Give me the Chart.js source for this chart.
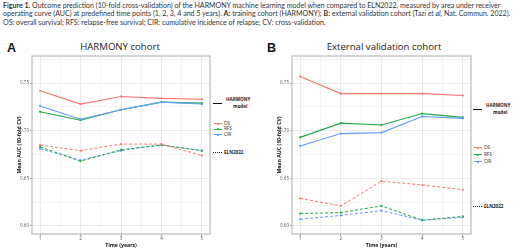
<!DOCTYPE html>
<html>
<head>
<meta charset="utf-8">
<script src="https://cdn.jsdelivr.net/npm/chart.js@4.4.1/dist/chart.umd.min.js"></script>
<style>
  body { margin: 0; background: #fff; width: 520px; height: 249px; overflow: hidden; position: relative; font-family: Lato, "Open Sans", sans-serif; }
  .cap { position: absolute; left: 3px; white-space: nowrap; font-size: 7.05px; color: #333; line-height: 8px; }
  .panel-letter { position: absolute; font: bold 12.5px "Liberation Sans", Arial, sans-serif; color: #111; }
  .panel-title { position: absolute; font-size: 9.6px; color: #222; white-space: nowrap; transform: translateX(-50%); font-family: "Open Sans", sans-serif; }
  canvas { position: absolute; }
  .lg { position: absolute; font-family: "Open Sans", sans-serif; font-size: 4.6px; color: #222; white-space: nowrap; line-height: 5px; }
  .lg.b { font-weight: bold; }
  .key { position: absolute; height: 0; }
  .dot { position: absolute; width: 2px; height: 2px; border-radius: 1px; }
</style>
</head>
<body>

<div class="cap" style="top:2px"><b>Figure 1.</b> Outcome prediction (10-fold cross-validation) of the HARMONY machine learning model when compared to ELN2022, measured by area under receiver</div>
<div class="cap" style="top:10px">operating curve (AUC) at predefined time points (1, 2, 3, 4 and 5 years). <b>A:</b> training cohort (HARMONY); <b>B:</b> external validation cohort (Tazi <i>et al</i>, Nat. Commun. 2022).</div>
<div class="cap" style="top:19px">OS: overall survival; RFS: relapse-free survival; CIR: cumulative incidence of relapse; CV: cross-validation.</div>

<div class="panel-letter" style="left:7px;top:41px">A</div>
<div class="panel-title" style="left:120px;top:40px">HARMONY cohort</div>
<div class="panel-letter" style="left:267px;top:41px">B</div>
<div class="panel-title" style="left:384px;top:40px">External validation cohort</div>

<canvas id="chart-a" width="200" height="199" style="left:12px;top:50px"></canvas>
<canvas id="chart-b" width="201" height="199" style="left:272px;top:50px"></canvas>

<div id="legend-a"></div>
<div id="legend-b"></div>

<script>
// Mean AUC (10-fold CV) by time point

const YEARS = [1, 2, 3, 4, 5];
const Y_TICKS = [0.6, 0.625, 0.65, 0.675, 0.7, 0.725, 0.75, 0.775];
const X_TICKS = [1, 1.5, 2, 2.5, 3, 3.5, 4, 4.5, 5];

// ── Panel A: HARMONY cohort ────────────────────────────────────────────────
const A_OS      = [0.742, 0.728, 0.736, 0.734, 0.733];
const A_RFS     = [0.720, 0.711, 0.722, 0.730, 0.729];
const A_CIR     = [0.726, 0.712, 0.722, 0.730, 0.728];
const A_ELN_OS  = [0.685, 0.679, 0.686, 0.686, 0.674];
const A_ELN_RFS = [0.683, 0.668, 0.680, 0.685, 0.679];
const A_ELN_CIR = [0.681, 0.669, 0.679, 0.685, 0.679];

// ── Panel B: external validation cohort ────────────────────────────────────
const B_OS      = [0.757, 0.739, 0.739, 0.739, 0.737];
const B_RFS     = [0.693, 0.708, 0.706, 0.718, 0.714];
const B_CIR     = [0.684, 0.697, 0.698, 0.715, 0.713];
const B_ELN_OS  = [0.629, 0.621, 0.647, 0.643, 0.638];
const B_ELN_RFS = [0.613, 0.614, 0.621, 0.606, 0.610];
const B_ELN_CIR = [0.607, 0.611, 0.616, 0.606, 0.609];

const COLORS = { OS: '#F8766D', RFS: '#1FAA45', CIR: '#619CFF' };

const isMajorY = v => Math.abs(v * 20 - Math.round(v * 20)) < 1e-6;
const isMajorX = v => Number.isInteger(v);

// draws the grey panel border round the plot area
const framePlugin = {
  id: 'frame',
  afterDraw(chart) {
    const { ctx, chartArea: a } = chart;
    ctx.save();
    ctx.strokeStyle = '#c4c4c4';
    ctx.lineWidth = 1.4;
    ctx.strokeRect(a.left, a.top, a.right - a.left, a.bottom - a.top);
    ctx.restore();
  }
};

function series(label, values, color, dashed) {
  return {
    label,
    data: YEARS.map((x, i) => ({ x, y: values[i] })),
    borderColor: color,
    backgroundColor: color,
    borderWidth: dashed ? 1 : 1.1,
    borderDash: dashed ? [3, 2] : [],
    pointRadius: 1.1,
    pointHoverRadius: 1.1,
    pointBorderWidth: 0,
    tension: 0,
    showLine: true
  };
}

function makePanel(canvasId, os, rfs, cir, elnOs, elnRfs, elnCir) {
  const datasets = [
    series('ELN OS',  elnOs,  COLORS.OS,  true),
    series('ELN RFS', elnRfs, COLORS.RFS, true),
    series('ELN CIR', elnCir, COLORS.CIR, true),
    series('CIR', cir, COLORS.CIR, false),
    series('RFS', rfs, COLORS.RFS, false),
    series('OS',  os,  COLORS.OS,  false)
  ];

  const tickFont  = { family: 'Open Sans', size: 4.5 };
  const titleFont = { family: 'Open Sans', size: 5.2, weight: 'bold' };

  return new Chart(document.getElementById(canvasId), {
    type: 'scatter',
    data: { datasets },
    plugins: [framePlugin],
    options: {
      responsive: false,
      devicePixelRatio: 1,
      animation: false,
      layout: { padding: { top: 6, right: 2, left: 0, bottom: 0 } },
      plugins: { legend: { display: false }, tooltip: { enabled: false } },
      scales: {
        x: {
          type: 'linear',
          min: 0.8,
          max: 5.2,
          afterBuildTicks: s => { s.ticks = X_TICKS.map(value => ({ value })); },
          afterFit: s => { s.height = 15; },
          border: { display: false },
          grid: {
            color: c => isMajorX(c.tick.value) ? '#e4e4e4' : '#f2f2f2',
            tickColor: c => isMajorX(c.tick.value) ? '#888' : 'rgba(0,0,0,0)',
            tickLength: 2,
            lineWidth: 0.8
          },
          ticks: {
            color: '#555',
            font: tickFont,
            padding: 0,
            maxRotation: 0,
            autoSkip: false,
            callback: v => isMajorX(v) ? String(v) : ''
          },
          title: { display: true, text: 'Time (years)', color: '#111', font: titleFont, padding: { top: 2, bottom: 0 } }
        },
        y: {
          type: 'linear',
          min: 0.5915,
          max: 0.7785,
          afterBuildTicks: s => { s.ticks = Y_TICKS.map(value => ({ value })); },
          afterFit: s => { s.width = 20; },
          border: { display: false },
          grid: {
            color: c => isMajorY(c.tick.value) ? '#e4e4e4' : '#f2f2f2',
            tickColor: c => isMajorY(c.tick.value) ? '#888' : 'rgba(0,0,0,0)',
            tickLength: 2,
            lineWidth: 0.8
          },
          ticks: {
            color: '#555',
            font: tickFont,
            padding: 1,
            autoSkip: false,
            callback: v => isMajorY(v) ? v.toFixed(2) : ''
          },
          title: { display: true, text: 'Mean AUC (10-fold CV)', color: '#111', font: titleFont, padding: { top: 4, bottom: 0 } }
        }
      }
    }
  });
}

makePanel('chart-a', A_OS, A_RFS, A_CIR, A_ELN_OS, A_ELN_RFS, A_ELN_CIR);
makePanel('chart-b', B_OS, B_RFS, B_CIR, B_ELN_OS, B_ELN_RFS, B_ELN_CIR);

// ── Legends (linetype + colour keys) ───────────────────────────────────────
function buildLegend(id, L) {
  const host = document.getElementById(id);
  const add = html => host.insertAdjacentHTML('beforeend', html);
  // solid = HARMONY model
  add(`<div class="key" style="left:${L.x}px;top:${L.solidY}px;width:9px;border-top:1.5px solid #111"></div>`);
  add(`<div class="lg b" style="left:${L.x + 13}px;top:${L.solidY - 6}px">HARMONY</div>`);
  add(`<div class="lg b" style="left:${L.x + 20}px;top:${L.solidY + 1}px">model</div>`);
  // colour keys
  ['OS', 'RFS', 'CIR'].forEach((name, i) => {
    const y = L.colY + i * L.colGap;
    add(`<div class="key" style="left:${L.x + 1}px;top:${y}px;width:8px;border-top:1px solid ${COLORS[name]}"></div>`);
    add(`<div class="dot" style="left:${L.x + 4}px;top:${y - 0.5}px;background:${COLORS[name]}"></div>`);
    add(`<div class="lg" style="left:${L.x + 11}px;top:${y - 2.5}px">${name}</div>`);
  });
  // dashed = ELN2022
  add(`<div class="key" style="left:${L.x}px;top:${L.elnY}px;width:9px;border-top:1.2px dotted #111"></div>`);
  add(`<div class="lg b" style="left:${L.x + 11}px;top:${L.elnY - 2.5}px">ELN2022</div>`);
}

buildLegend('legend-a', { x: 213, solidY: 103, colY: 123, colGap: 5.5, elnY: 152 });
buildLegend('legend-b', { x: 473, solidY: 109, colY: 147, colGap: 7, elnY: 206 });
</script>
</body>
</html>
